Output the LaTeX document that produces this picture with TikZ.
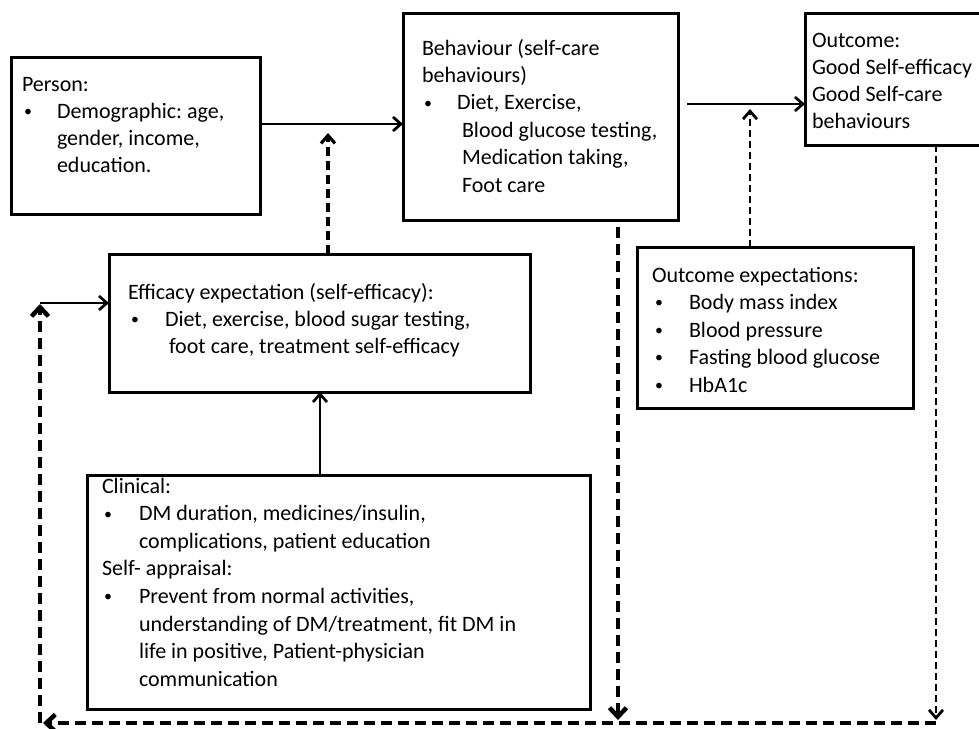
\documentclass[tikz,border=0pt]{standalone}
\usepackage{fontspec}
\setmainfont{Carlito}
\usetikzlibrary{arrows.meta}
\newcommand{\bdot}{\raisebox{1.6pt}{\scalebox{0.72}{\textbullet}}}
\newcommand{\bul}{\makebox[35pt][l]{\hspace{2pt}\bdot}}
\newcommand{\ind}{\hspace*{35pt}}
\begin{document}
\frenchspacing
\begin{tikzpicture}[x=1pt,y=-1pt,
  box/.style={draw, line width=3pt, inner sep=0pt, outer sep=0pt, anchor=north west},
  txt/.style={anchor=base west, inner sep=0pt, outer sep=0pt},
  arr/.style={-{Straight Barb[length=8pt,width=14pt]}},
  bigarr/.style={-{Straight Barb[length=9pt,width=17pt]}},
  solidline/.style={line width=2.7pt},
  thickdash/.style={line width=4.5pt, dash pattern=on 11pt off 6pt},
  middash/.style={line width=3.2pt, dash pattern=on 9pt off 5pt},
  thindash/.style={line width=2.8pt, dash pattern=on 7pt off 4pt}]
\useasboundingbox (0,0) rectangle (979,728);
\fontsize{22}{27.3}\selectfont
% boxes
\node[box, minimum width=249pt, minimum height=157pt] (person) at (11,57) {};
\node[box, minimum width=275pt, minimum height=207pt] (beh) at (403,13) {};
\node[box, minimum width=177pt, minimum height=132pt] (outc) at (805,13) {};
\node[box, minimum width=421pt, minimum height=138pt] (eff) at (109,254) {};
\node[box, minimum width=276pt, minimum height=161pt] (oexp) at (637,247) {};
\node[box, minimum width=503pt, minimum height=234pt] (clin) at (87,475) {};
% texts
\node[txt] (persont) at (22,91) {\parbox[t]{235pt}{\fontsize{22}{27}\selectfont\raggedright
Person:\\
\bul Demographic: age,\\
\ind gender, income,\\
\ind education.}};
\node[txt] (beht) at (422,55) {\parbox[t]{255pt}{\fontsize{22}{27.4}\selectfont\raggedright
Behaviour (self-care\\
behaviours)\\
\bul Diet, Exercise,\\
\ind\hspace*{5pt}Blood glucose testing,\\
\ind\hspace*{5pt}Medication taking,\\
\ind\hspace*{5pt}Foot care}};
\node[txt] (outct) at (812,47) {\parbox[t]{170pt}{\fontsize{22}{27}\selectfont\raggedright
Outcome:\\
Good Self-efficacy\\
Good Self-care\\
behaviours}};
\node[txt] (efft) at (128,299) {\parbox[t]{400pt}{\fontsize{22}{27}\selectfont\raggedright
Efficacy expectation (self-efficacy):\\
\makebox[37pt][l]{\hspace{3pt}\bdot}Diet, exercise, blood sugar testing,\\
\hspace*{37pt}\hspace*{4pt}foot care, treatment self-efficacy}};
\node[txt] (oexpt) at (652,282) {\parbox[t]{260pt}{\fontsize{22}{27.5}\selectfont\raggedright
Outcome expectations:\\
\makebox[37pt][l]{\hspace{3pt}\bdot}Body mass index\\
\makebox[37pt][l]{\hspace{3pt}\bdot}Blood pressure\\
\makebox[37pt][l]{\hspace{3pt}\bdot}Fasting blood glucose\\
\makebox[37pt][l]{\hspace{3pt}\bdot}HbA1c}};
\node[txt] (clint) at (102,493) {\parbox[t]{480pt}{\fontsize{22}{27.6}\selectfont\raggedright
Clinical:\\
\makebox[37pt][l]{\hspace{2pt}\bdot}DM duration, medicines/insulin,\\
\hspace*{37pt}complications, patient education\\
Self- appraisal:\\
\makebox[37pt][l]{\hspace{2pt}\bdot}Prevent from normal activities,\\
\hspace*{37pt}understanding of DM/treatment, fit DM in\\
\hspace*{37pt}life in positive, Patient-physician\\
\hspace*{37pt}communication}};
% helper coordinates
\coordinate (j1) at (328,124);
\coordinate (j1t) at (328,133);
\coordinate (j2) at (750,104);
\coordinate (j2t) at (750,109);
\coordinate (cx) at (320,430);
\coordinate (bd) at (618,720);
\coordinate (od) at (936,720);
\coordinate (br) at (936,723);
\coordinate (bl) at (40,723);
\coordinate (lt) at (40,304);
\coordinate (lc) at (40,303);
% connectors
\draw[solidline, arr] (person.east |- j1) -- (beh.west |- j1);
\draw[middash, arr] (eff.north -| j1) -- (j1t);
\draw[solidline, arr, shorten <=9pt] (beh.east |- j2) -- (outc.west |- j2);
\draw[thindash, arr] (oexp.north -| j2) -- (j2t);
\draw[solidline, arr] (clin.north -| cx) -- (eff.south -| cx);
\draw[thickdash, bigarr, shorten <=7pt] (beh.south -| bd) -- (bd);
\draw[thindash, arr] (outc.south -| od) -- (od);
\draw[thickdash, bigarr, shorten >=3pt] (br) -- (bl);
\draw[thickdash, bigarr] (bl) -- (lt);
\draw[solidline, arr] (lc) -- (eff.west |- lc);
\end{tikzpicture}
\end{document}
